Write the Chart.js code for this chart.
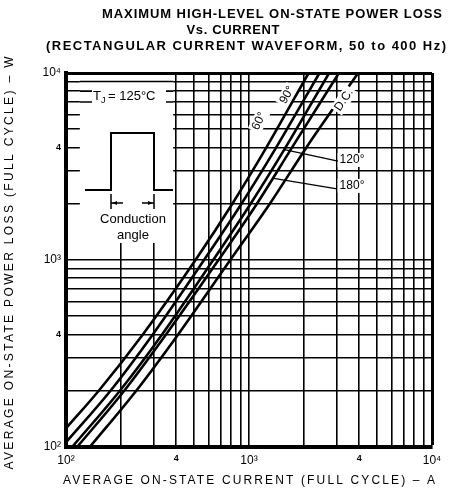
<!DOCTYPE html>
<html>
<head>
<meta charset="utf-8">
<script src="https://cdn.jsdelivr.net/npm/chart.js@4/dist/chart.umd.min.js"></script>
<style>
  html, body { margin: 0; padding: 0; background: #fff; }
  #wrap { width: 453px; height: 493px; position: relative; }
</style>
</head>
<body>
<div id="wrap"><canvas id="chart"></canvas></div>
<script>
// curves: average current (A) against power loss (W)
const current60 = [100, 151, 263, 510, 811, 1245, 2118];
const power60   = [126, 200, 400, 1000, 2000, 4000, 10000];
const current90 = [100, 175, 298, 568, 910, 1409, 2427];
const power90   = [106, 200, 400, 1000, 2000, 4000, 10000];
const current120 = [108, 197, 335, 637, 1021, 1585, 2740];
const power120   = [100, 200, 400, 1000, 2000, 4000, 10000];
const current180 = [115, 208, 352, 681, 1105, 1720, 3100];
const power180   = [100, 200, 400, 1000, 2000, 4000, 10000];
const currentDC = [135, 242, 410, 790, 1300, 2060, 3950];
const powerDC   = [100, 200, 400, 1000, 2000, 4000, 10000];

const xTickValues = [100, 400, 1000, 4000, 10000];
const xTickLabels = ['10²', '4', '10³', '4', '10⁴'];
const yTickValues = [100, 400, 1000, 4000, 10000];
const yTickLabels = ['10²', '4', '10³', '4', '10⁴'];
const smallTicks = [400, 4000];

const titleLines = [
  'MAXIMUM HIGH-LEVEL ON-STATE POWER LOSS',
  'Vs. CURRENT',
  '(RECTANGULAR CURRENT WAVEFORM, 50 to 400 Hz)'
];
const xTitle = 'AVERAGE ON-STATE CURRENT (FULL CYCLE) – A';
const yTitle = 'AVERAGE ON-STATE POWER LOSS (FULL CYCLE) – W';

const series = [
  { name: '60°', current: current60, power: power60 },
  { name: '90°', current: current90, power: power90 },
  { name: '120°', current: current120, power: power120 },
  { name: '180°', current: current180, power: power180 },
  { name: 'D.C.', current: currentDC, power: powerDC }
];

// curve labels placed in data units (current, power), angle in degrees
const curveLabels = [
  { text: '60°', i: 1135, p: 5530, rot: -64, inline: false },
  { text: '90°', i: 1614, p: 7620, rot: -60, inline: false },
  { text: 'D.C.', i: 3300, p: 7180, rot: -56, inline: true },
  { text: '120°', i: 3656, p: 3430, rot: 0, inline: false },
  { text: '180°', i: 3656, p: 2490, rot: 0, inline: false }
];
const leaders = [
  { from: [1540, 3900], to: [3062, 3380] },
  { from: [1340, 2742], to: [3027, 2400] }
];
const inset = { iMin: 119, iMax: 385, pMin: 1233, pMax: 10000, tjLeft: 138.7, tjRight: 352 };

function gridValues() {
  const v = [];
  for (let e = 100; e < 10000; e *= 10) for (let k = 1; k < 10; k++) v.push(k * e);
  v.push(10000);
  return v;
}

const F = '"Liberation Sans", Arial, Helvetica, sans-serif';

function fitText(ctx, text, cx, cy, width, font) {
  ctx.font = font;
  ctx.letterSpacing = '0px';
  const w = ctx.measureText(text).width;
  const gap = (width - w) / (text.length - 1);
  ctx.letterSpacing = gap + 'px';
  ctx.textAlign = 'left';
  ctx.textBaseline = 'middle';
  ctx.fillText(text, cx - width / 2, cy);
  ctx.letterSpacing = '0px';
}

function labelBox(ctx, x, y, lab) {
  ctx.save();
  ctx.translate(x.getPixelForValue(lab.i), y.getPixelForValue(lab.p));
  ctx.rotate(lab.rot * Math.PI / 180);
  ctx.font = '12px ' + F;
  const w = ctx.measureText(lab.text).width;
  ctx.fillStyle = '#fff';
  ctx.fillRect(-w / 2 - 2, -7, w + 4, 14);
  ctx.restore();
}

const overlay = {
  id: 'overlay',
  beforeDatasetsDraw(chart) {
    const { ctx, scales: { x, y } } = chart;
    ctx.save();
    const l = x.getPixelForValue(inset.iMin), r = x.getPixelForValue(inset.iMax);
    const t = y.getPixelForValue(inset.pMax), b = y.getPixelForValue(inset.pMin);
    ctx.fillStyle = '#fff';
    ctx.fillRect(l, t + 2, r - l, b - t - 2);
    // grid lines that run through the top of the panel
    ctx.strokeStyle = '#000';
    ctx.lineWidth = 1.6;
    const tl = x.getPixelForValue(inset.tjLeft), tr = x.getPixelForValue(inset.tjRight);
    ctx.beginPath();
    let py = y.getPixelForValue(9000);
    ctx.moveTo(l, py); ctx.lineTo(r, py);
    [8000, 7000].forEach(v => {
      py = y.getPixelForValue(v);
      ctx.moveTo(l, py); ctx.lineTo(tl, py);
      ctx.moveTo(tr, py); ctx.lineTo(r, py);
    });
    ctx.stroke();
    curveLabels.filter(c => !c.inline).forEach(c => labelBox(ctx, x, y, c));
    ctx.restore();
  },
  afterDatasetsDraw(chart) {
    const { ctx, scales: { x, y } } = chart;
    curveLabels.filter(c => c.inline).forEach(c => labelBox(ctx, x, y, c));
  },
  afterDraw(chart) {
    const { ctx, chartArea: a, scales: { x, y } } = chart;
    ctx.save();
    ctx.fillStyle = '#000';
    ctx.strokeStyle = '#000';

    // curve labels
    curveLabels.forEach(c => {
      ctx.save();
      ctx.translate(x.getPixelForValue(c.i), y.getPixelForValue(c.p));
      ctx.rotate(c.rot * Math.PI / 180);
      ctx.font = '12px ' + F;
      ctx.textAlign = 'center';
      ctx.textBaseline = 'middle';
      ctx.fillText(c.text, 0, 0);
      ctx.restore();
    });
    ctx.lineWidth = 1.3;
    ctx.beginPath();
    leaders.forEach(ld => {
      ctx.moveTo(x.getPixelForValue(ld.from[0]), y.getPixelForValue(ld.from[1]));
      ctx.lineTo(x.getPixelForValue(ld.to[0]), y.getPixelForValue(ld.to[1]));
    });
    ctx.stroke();

    // T_J = 125°C
    const L = a.left, T = a.top;
    ctx.textAlign = 'left';
    ctx.textBaseline = 'alphabetic';
    ctx.font = '13px ' + F;
    ctx.fillText('T', L + 27, T + 27);
    ctx.font = '9px ' + F;
    ctx.fillText('J', L + 35, T + 30);
    ctx.font = '13px ' + F;
    ctx.fillText('= 125°C', L + 42, T + 27);

    // conduction angle sketch
    ctx.lineWidth = 2;
    ctx.beginPath();
    ctx.moveTo(L + 19, T + 117); ctx.lineTo(L + 45, T + 117);
    ctx.lineTo(L + 45, T + 60); ctx.lineTo(L + 88, T + 60);
    ctx.lineTo(L + 88, T + 117); ctx.lineTo(L + 107, T + 117);
    ctx.stroke();
    ctx.lineWidth = 1.5;
    ctx.beginPath();
    ctx.moveTo(L + 45, T + 121); ctx.lineTo(L + 45, T + 136);
    ctx.moveTo(L + 88, T + 121); ctx.lineTo(L + 88, T + 136);
    ctx.moveTo(L + 45, T + 130); ctx.lineTo(L + 57, T + 130);
    ctx.moveTo(L + 76, T + 130); ctx.lineTo(L + 88, T + 130);
    ctx.stroke();
    ctx.beginPath();
    ctx.moveTo(L + 46, T + 130); ctx.lineTo(L + 51, T + 128); ctx.lineTo(L + 51, T + 132); ctx.closePath();
    ctx.moveTo(L + 87, T + 130); ctx.lineTo(L + 82, T + 128); ctx.lineTo(L + 82, T + 132); ctx.closePath();
    ctx.fill();
    ctx.font = '13px ' + F;
    ctx.textAlign = 'center';
    ctx.textBaseline = 'middle';
    ctx.fillText('Conduction', L + 67, T + 146);
    ctx.fillText('angle', L + 67, T + 162);

    // titles
    fitText(ctx, titleLines[0], 272, 14, 340, 'bold 13px ' + F);
    fitText(ctx, titleLines[1], 233, 30, 93, 'bold 13px ' + F);
    fitText(ctx, titleLines[2], 246, 46, 400, 'bold 13px ' + F);
    fitText(ctx, xTitle, 249, 481, 372, '12px ' + F);
    ctx.save();
    ctx.translate(10, 263);
    ctx.rotate(-Math.PI / 2);
    fitText(ctx, yTitle, 0, 0, 413, '12px ' + F);
    ctx.restore();
    ctx.restore();
  }
};

function tickFont(c) {
  const small = c.tick && smallTicks.includes(c.tick.value);
  return { family: F, size: small ? 9 : 12, weight: small ? 'bold' : 'normal' };
}

function gridWidth(c) {
  return c.tick && c.tick.value === 10000 ? 3 : 1.6;
}

new Chart(document.getElementById('chart'), {
  type: 'line',
  data: {
    datasets: series.map(s => ({
      label: s.name,
      data: s.current.map((c, k) => ({ x: c, y: s.power[k] })),
      borderColor: '#000',
      borderWidth: 2.6,
      pointRadius: 0,
      fill: false,
      cubicInterpolationMode: 'monotone'
    }))
  },
  options: {
    responsive: true,
    maintainAspectRatio: false,
    animation: false,
    layout: { padding: { top: 73, right: 21, bottom: 0, left: 0 } },
    plugins: {
      legend: { display: false },
      tooltip: { enabled: false },
      title: { display: false }
    },
    scales: {
      x: {
        type: 'logarithmic',
        min: 100,
        max: 10000,
        afterBuildTicks: s => { s.ticks = gridValues().map(v => ({ value: v })); },
        afterFit: s => { s.height = 46; },
        grid: { color: '#000', lineWidth: gridWidth, drawTicks: false },
        border: { color: '#000', width: 4 },
        ticks: {
          autoSkip: false,
          maxRotation: 0,
          padding: 6,
          color: '#000',
          font: tickFont,
          callback: v => {
            const k = xTickValues.indexOf(v);
            return k < 0 ? '' : xTickLabels[k];
          }
        }
      },
      y: {
        type: 'logarithmic',
        min: 100,
        max: 10000,
        afterBuildTicks: s => { s.ticks = gridValues().map(v => ({ value: v })); },
        afterFit: s => { s.width = 66; },
        grid: { color: '#000', lineWidth: gridWidth, drawTicks: false },
        border: { color: '#000', width: 4 },
        ticks: {
          autoSkip: false,
          padding: 5,
          color: '#000',
          font: tickFont,
          callback: v => {
            const k = yTickValues.indexOf(v);
            return k < 0 ? '' : yTickLabels[k];
          }
        }
      }
    }
  },
  plugins: [overlay]
});
</script>
</body>
</html>
